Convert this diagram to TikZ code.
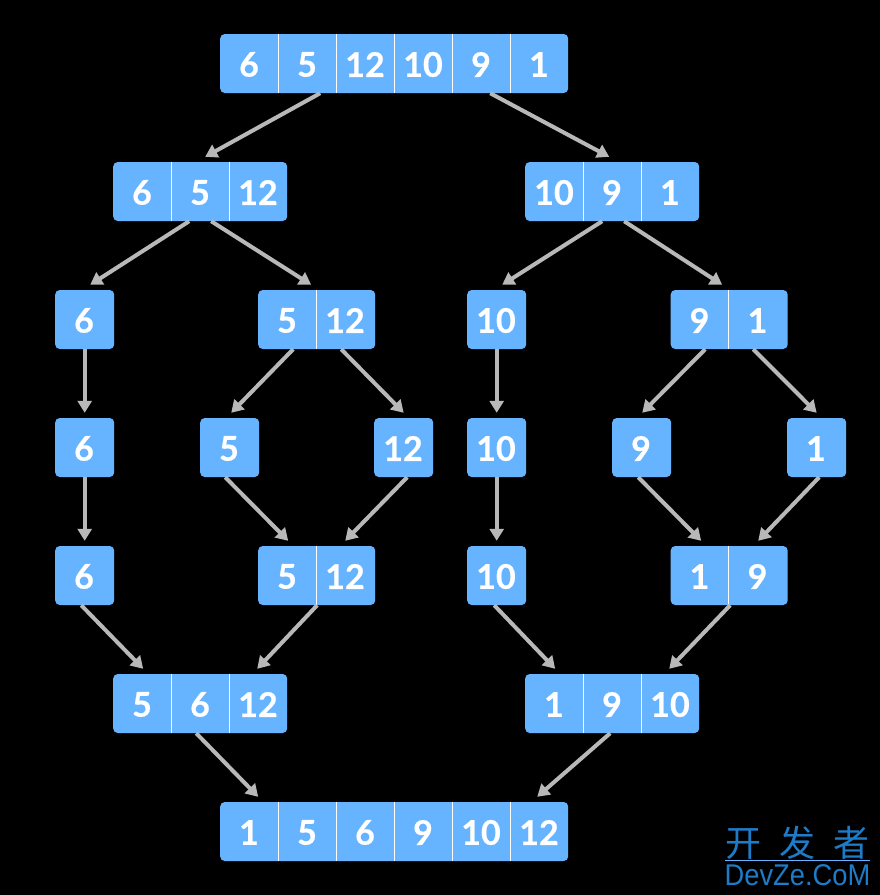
\documentclass[tikz,border=0pt]{standalone}
\usepackage{fontspec}
\setmainfont{Lato}[BoldFeatures={FakeBold=0.6}]
\newfontfamily\cjkfont{Noto Sans CJK SC}
\newfontfamily\wmfont{Liberation Sans}
\usetikzlibrary{arrows.meta}
\definecolor{barblue}{HTML}{66B3FF}
\definecolor{arrowgray}{HTML}{B8B8B8}
\definecolor{wmblue}{HTML}{1E7BC8}
\begin{document}
\begin{tikzpicture}[
		x=1pt,y=-1pt,
		bar/.style={fill=barblue,rounded corners=4.5pt,minimum height=59pt,inner sep=0pt,anchor=west},
		cell/.style={text=white,font=\fontsize{34}{34}\selectfont\bfseries,inner sep=0pt},
		divider/.style={white,line width=1pt},
		link/.style={arrowgray,line width=4pt,-{Triangle[length=12pt,width=14pt]}},
		wmtext/.style={text=wmblue,inner sep=0pt}
	]
	\useasboundingbox[fill=black] (0,0) rectangle (880,895);
	% the bars, left edge and row
	\foreach \nm/\xx/\yy/\n/\vals in {
			a1/220/63.5/6/{6,5,12,10,9,1},
			b1/113/191.5/3/{6,5,12},
			b2/525/191.5/3/{10,9,1},
			c1/55/319.5/1/{6},
			c2/258/319.5/2/{5,12},
			c3/467/319.5/1/{10},
			c4/670.5/319.5/2/{9,1},
			d1/55/447.5/1/{6},
			d2/200/447.5/1/{5},
			d3/374/447.5/1/{12},
			d4/467/447.5/1/{10},
			d5/612/447.5/1/{9},
			d6/787/447.5/1/{1},
			e1/55/575.5/1/{6},
			e2/258/575.5/2/{5,12},
			e3/467/575.5/1/{10},
			e4/670.5/575.5/2/{1,9},
			f1/113/703.5/3/{5,6,12},
			f2/525/703.5/3/{1,9,10},
			g1/220/831.5/6/{1,5,6,9,10,12}}{
		\node[bar,minimum width={\n*58pt+(\n<3)*1pt}] (\nm) at (\xx,\yy) {};
		\foreach \v [count=\i] in \vals {
			\node[cell] (\nm-\i) at (\xx+\i*58-29,\yy+1) {\v};
			\ifnum\i<\n
				\draw[divider] ([xshift=\i*58pt]\nm.north west) -- ([xshift=\i*58pt]\nm.south west);
			\fi
		}
	}
	% the arrows, shifts from the middle of each bar to where the tip stops
	\foreach \from/\sa/\to/\sb in {
			a1/-74/b1/5, a1/96/b2/-3,
			b1/-11/c1/5.5, b1/11/c2/-5.5, b2/-10/c3/5.5, b2/12/c4/-7,
			c1/0/d1/0, c2/-23.5/d2/1.5, c2/24.5/d3/0,
			c3/0/d4/0, c4/-24/d5/0.5, c4/24/d6/0,
			d1/0/e1/0, d2/-4.5/e2/-28.5, d3/3.5/e2/28.5,
			d4/0/e3/0, d5/-3.5/e4/-28, d6/2.5/e4/29,
			e1/-3.5/f1/-57, e2/0.5/f1/57, e3/-2.5/f2/-57, e4/1/f2/57,
			f1/-4/g1/-136, f2/-2/g1/143}{
		\draw[link] ([xshift=\sa pt]\from.south) -- ([xshift=\sb pt,yshift=5pt]\to.north);
	}
	% corner mark
	\node[wmtext,font=\cjkfont\fontsize{36}{36}\selectfont] (wmtop) at (797.5,843) {开\hspace{18pt}发\hspace{18pt}者};
	\node[wmtext,font=\wmfont\fontsize{30}{30}\selectfont,xscale=0.91,transform shape] (wmbottom) at (797.5,875) {DevZe.CoM};
	\coordinate (wmleft) at (725,860);
	\coordinate (wmright) at (870,860);
	\draw[line width=0.7pt,barblue] (wmleft) -- (wmright);
\end{tikzpicture}
\end{document}
